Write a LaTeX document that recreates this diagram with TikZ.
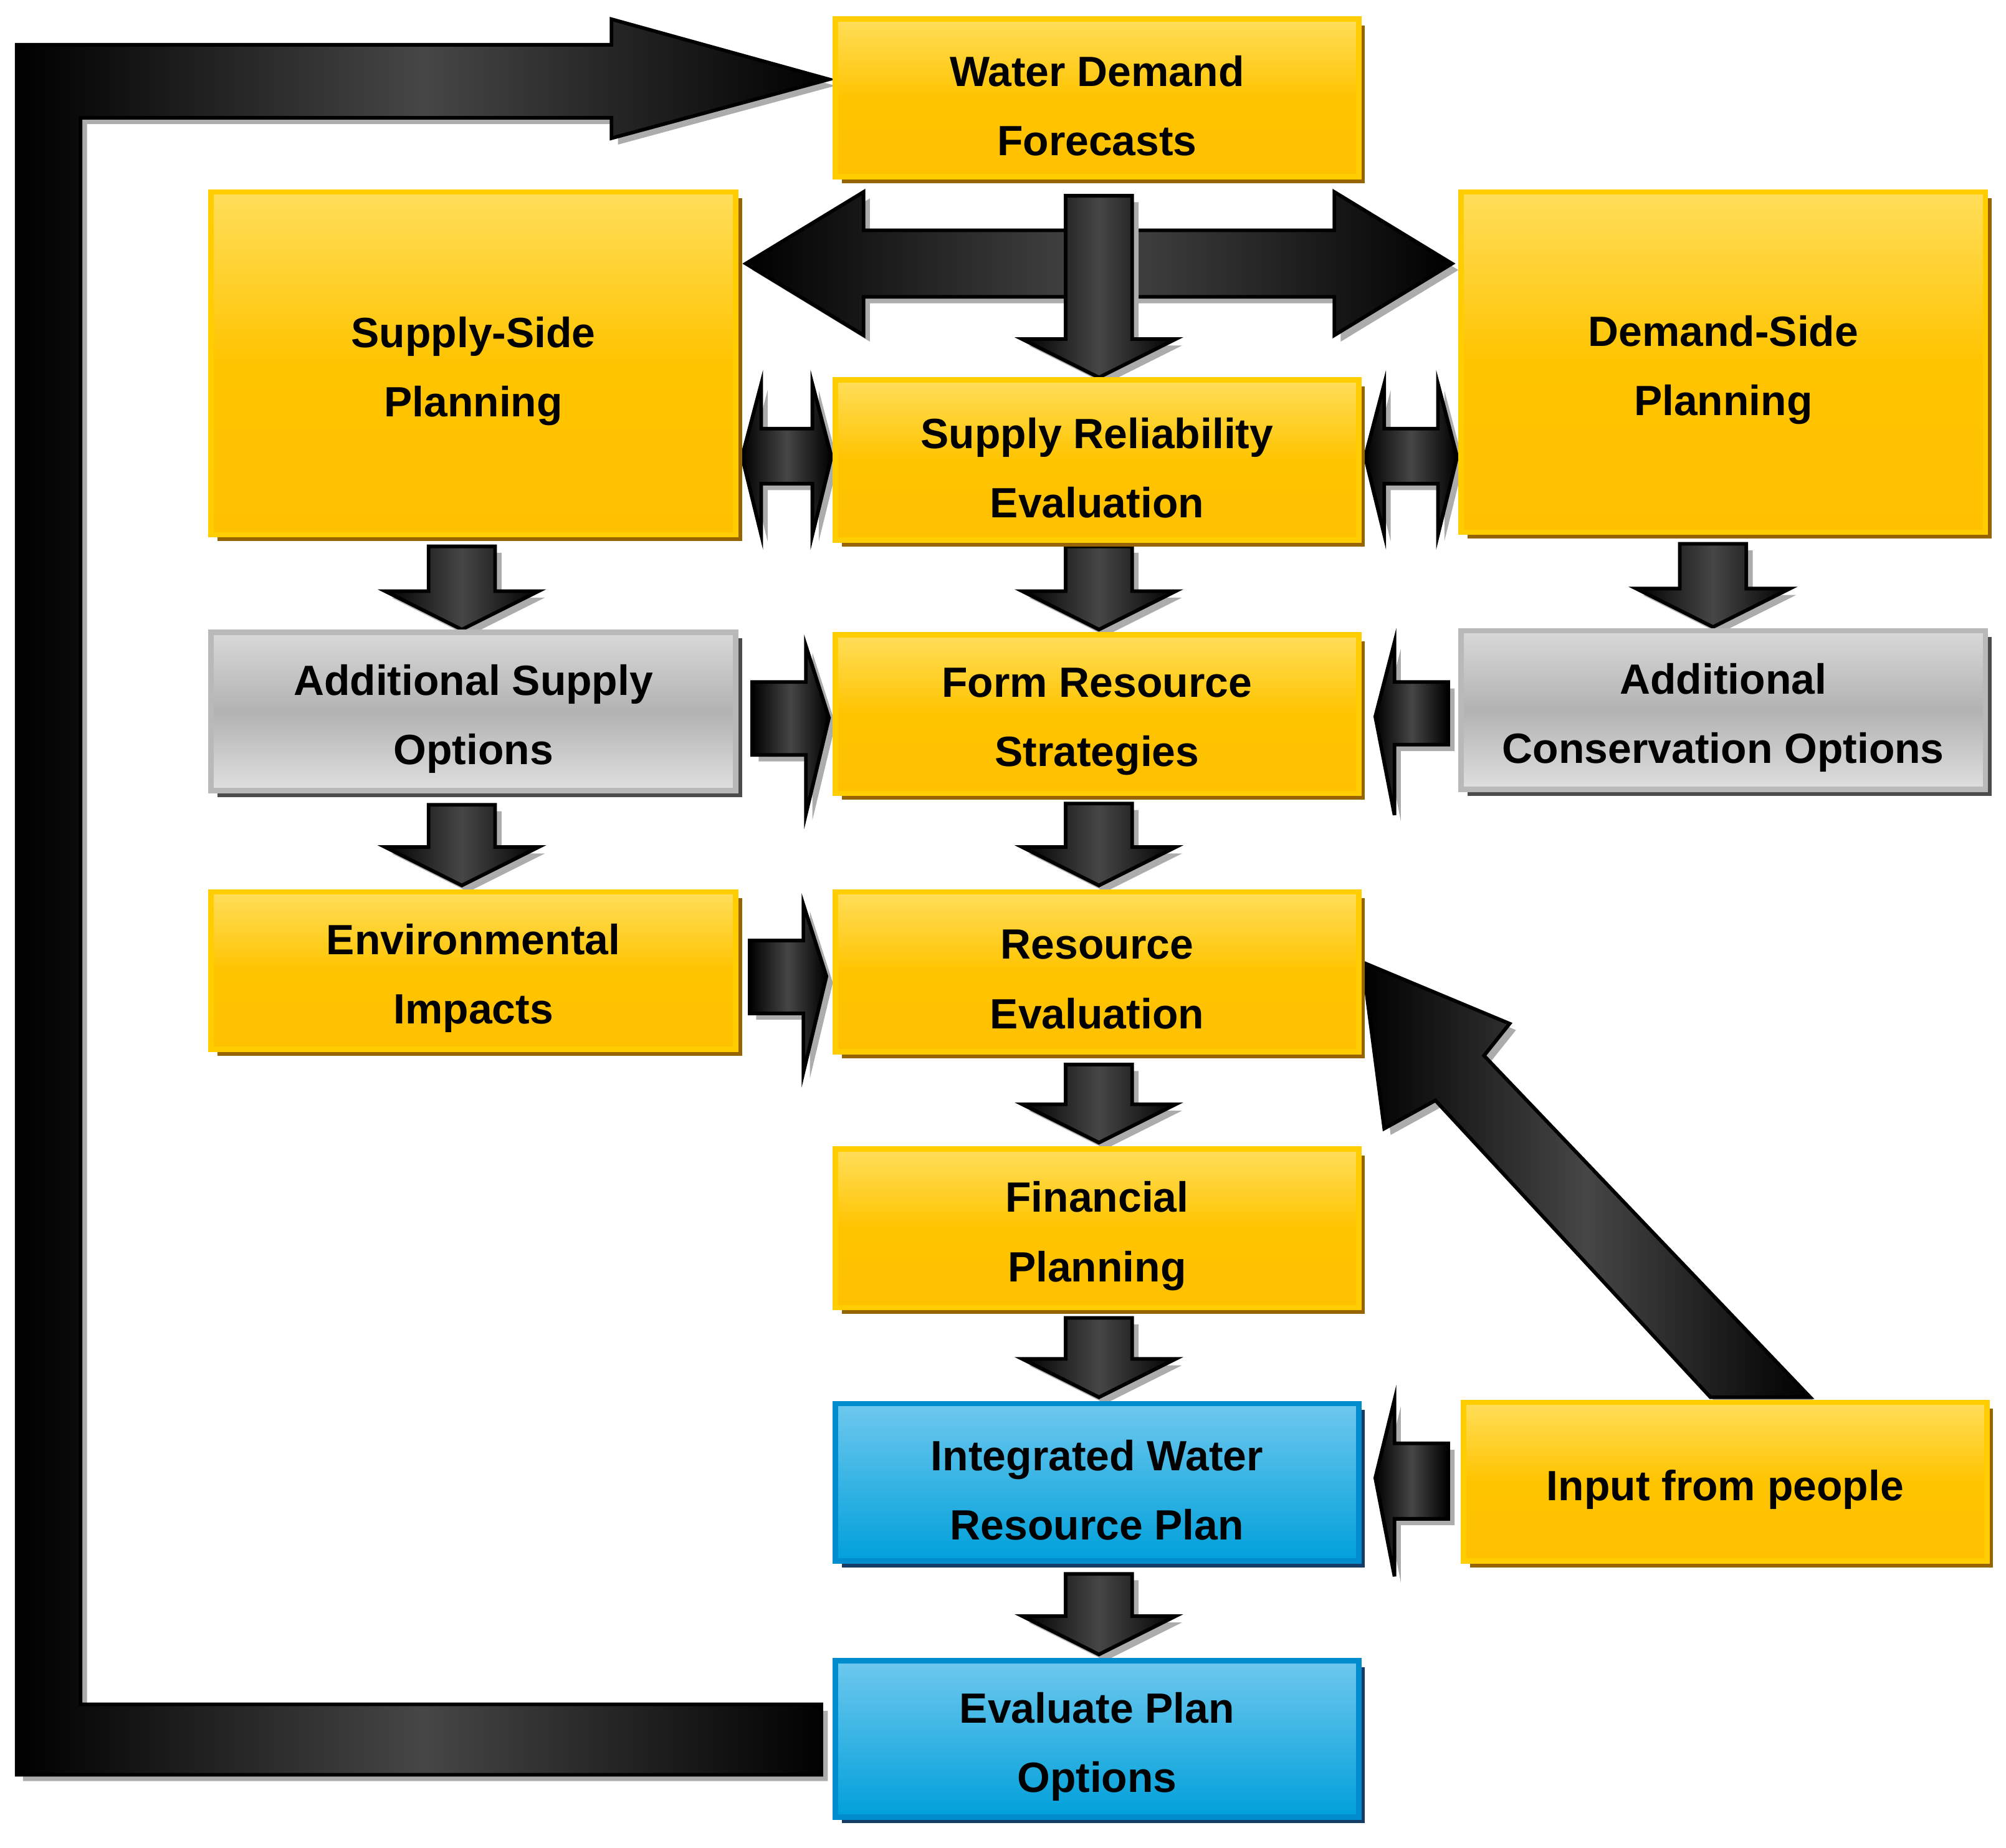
\documentclass[tikz,border=0pt]{standalone}
\usepackage{fontspec}
\setmainfont{Liberation Sans}
\begin{document}
\begin{tikzpicture}[x=0.01cm,y=-0.01cm,
  yel/.style={draw={rgb,255:red,255;green,205;blue,0},line width=1.2pt,top color={rgb,255:red,255;green,222;blue,90},bottom color={rgb,255:red,255;green,192;blue,0},middle color={rgb,255:red,255;green,196;blue,0}},
  gry/.style={draw=gray!55,line width=1.2pt,top color=gray!30,bottom color=gray!25,middle color=gray!60},
  blu/.style={draw={rgb,255:red,0;green,140;blue,205},line width=1.2pt,top color={rgb,255:red,110;green,200;blue,238},bottom color={rgb,255:red,0;green,160;blue,218}},
  ysh/.style={fill={rgb,255:red,150;green,100;blue,0}},
  gsh/.style={fill=gray!60!black},
  bsh/.style={fill={rgb,255:red,20;green,60;blue,100}},
  txt/.style={font=\bfseries\fontsize{9.4}{15.4}\selectfont,align=center},
  arr/.style={draw=black,line width=0.8pt,left color=black,right color=black,middle color=gray!55!black},
  ash/.style={fill=gray!65}]
\useasboundingbox (0,0) rectangle (1568,1444);
\newcommand\bx[8]{%
  \fill[#7] ({#2+5},{#3+5}) rectangle ({#4+5},{#5+5});
  \draw[#6] (#2,#3) rectangle (#4,#5);
  \node[txt] (#1) at ({(#2+#4)/2},{(#3+#5)/2+6}) {#8};}
\newcommand\blk[1]{\fill[ash,shift={(5,5)}] #1; \draw[arr] #1;}
% down arrow: center x, top y, tip y
\newcommand\dar[3]{\blk{({#1-26},#2) -- ({#1+26},#2) -- ({#1+26},{#3-30}) -- ({#1+60},{#3-30}) -- (#1,#3) -- ({#1-60},{#3-30}) -- ({#1-26},{#3-30}) -- cycle}}
% feedback loop
\blk{(13,35) -- (478,35) -- (478,15) -- (648,62) -- (478,108) -- (478,92) -- (63,92) -- (63,1332) -- (642,1332) -- (642,1387) -- (13,1387) -- cycle}
% top double arrow
\blk{(583,206) -- (675,150) -- (675,180) -- (1043,180) -- (1043,150) -- (1135,206) -- (1043,262) -- (1043,232) -- (675,232) -- (675,262) -- cycle}
\dar{859}{153}{295}
% small double arrows
\blk{(580,357) -- (595,300) -- (595,335) -- (635,335) -- (635,300) -- (650,357) -- (635,418) -- (635,378) -- (595,378) -- (595,418) -- cycle}
\blk{(1067,357) -- (1082,300) -- (1082,335) -- (1124,335) -- (1124,300) -- (1139,357) -- (1124,418) -- (1124,378) -- (1082,378) -- (1082,418) -- cycle}
% side arrows
\blk{(588,533) -- (630,533) -- (630,505) -- (648,561) -- (630,636) -- (630,590) -- (588,590) -- cycle}
\blk{(586,735) -- (628,735) -- (628,707) -- (646,763) -- (628,838) -- (628,792) -- (586,792) -- cycle}
\blk{(1132,533) -- (1090,533) -- (1090,502) -- (1075,560) -- (1090,637) -- (1090,582) -- (1132,582) -- cycle}
\blk{(1132,1128) -- (1090,1128) -- (1090,1094) -- (1075,1155) -- (1090,1232) -- (1090,1187) -- (1132,1187) -- cycle}
% down arrows
\dar{361}{427}{492}
\dar{361}{629}{692}
\dar{859}{427}{492}
\dar{859}{628}{692}
\dar{859}{832}{893}
\dar{859}{1030}{1092}
\dar{859}{1230}{1293}
\dar{1339}{425}{490}
% diagonal arrow
\blk{(1337,1092) -- (1122,860) -- (1082,882) -- (1065,752) -- (1180,800) -- (1160,825) -- (1415,1092) -- cycle}
% boxes
\bx{wdf}{653}{15}{1062}{138}{yel}{ysh}{Water Demand\\Forecasts}
\bx{ssp}{165}{150}{575}{418}{yel}{ysh}{Supply-Side\\Planning}
\bx{dsp}{1142}{150}{1552}{416}{yel}{ysh}{Demand-Side\\Planning}
\bx{sre}{653}{297}{1062}{422}{yel}{ysh}{Supply Reliability\\Evaluation}
\bx{aso}{165}{494}{575}{618}{gry}{gsh}{Additional Supply\\Options}
\bx{frs}{653}{496}{1062}{620}{yel}{ysh}{Form Resource\\Strategies}
\bx{aco}{1142}{493}{1552}{617}{gry}{gsh}{Additional\\Conservation Options}
\bx{env}{165}{697}{575}{820}{yel}{ysh}{Environmental\\Impacts}
\bx{rev}{653}{697}{1062}{822}{yel}{ysh}{Resource\\Evaluation}
\bx{fin}{653}{898}{1062}{1022}{yel}{ysh}{Financial\\Planning}
\bx{iwr}{653}{1097}{1062}{1220}{blu}{bsh}{Integrated Water\\Resource Plan}
\bx{inp}{1144}{1096}{1553}{1220}{yel}{ysh}{Input from people}
\bx{epo}{653}{1298}{1062}{1420}{blu}{bsh}{Evaluate Plan\\Options}
\end{tikzpicture}
\end{document}
